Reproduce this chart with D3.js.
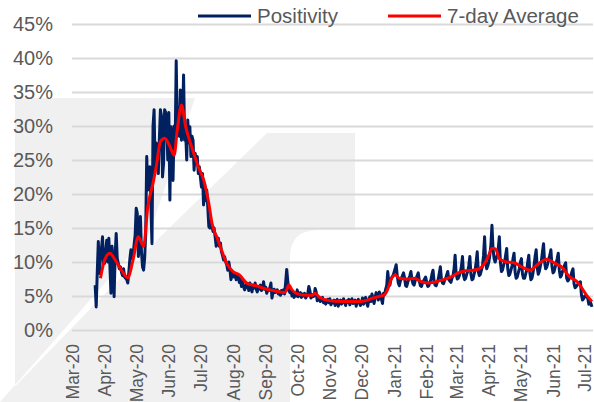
<!DOCTYPE html>
<html>
<head>
<meta charset="utf-8">
<script src="https://cdn.jsdelivr.net/npm/d3@7"></script>
<style>
  html, body { margin: 0; padding: 0; background: #fff; }
  svg { display: block; font-family: "Liberation Sans", Arial, sans-serif; }
</style>
</head>
<body>
<svg id="chart"></svg>
<script>
/* Données : taux de positivité quotidien (%) à partir du 23 mars 2020 */
const firstDay = '2020-03-23'

const positivity = [
  // mars 2020 (23-31)
  6.6, 3.4, 8.5, 13.0, 8.3, 10.5, 12.0, 13.7, 9.8,
  // avril 2020
  9.8, 11.5, 13.2, 10.0, 13.5, 9.5, 5.4, 12.3, 10.5, 4.9, 11.0, 14.2, 10.5, 9.8, 9.0,
  9.3, 8.5, 8.0, 9.0, 7.8, 7.6, 7.4, 6.9, 8.5, 10.5, 11.8, 10.5, 11.0, 12.5, 14.0,
  // mai 2020
  17.9, 17.2, 10.8, 12.0, 16.7, 11.5, 9.3, 8.8, 10.5, 14.0, 25.5, 20.6, 21.0, 24.0, 18.0,
  12.7, 30.0, 32.4, 23.5, 27.5, 26.5, 23.0, 28.0, 32.4, 31.5, 22.5, 24.5, 32.4, 32.0, 30.4, 25.0,
  // juin 2020
  32.0, 19.1, 29.9, 26.5, 22.0, 30.0, 27.0, 39.6, 30.0, 32.8, 28.5, 35.3, 27.9, 30.5, 37.5,
  27.9, 29.0, 25.0, 30.9, 27.5, 29.9, 25.5, 28.5, 27.9, 23.5, 26.0, 24.5, 25.5, 23.0, 24.0,
  // juillet 2020
  22.5, 21.0, 23.0, 18.4, 21.5, 19.0, 20.6, 18.1, 15.2, 15.0, 16.0, 15.2, 14.5, 15.0, 13.7,
  12.3, 13.2, 13.5, 12.3, 12.8, 11.5, 11.0, 10.3, 10.8, 10.0, 9.6, 8.8, 10.0, 9.0, 7.4, 8.0,
  // août 2020
  8.5, 7.8, 8.3, 7.4, 8.0, 7.8, 7.0, 7.6, 6.4, 7.2, 6.4, 5.9, 6.3, 6.9, 6.5,
  5.8, 6.9, 6.2, 5.6, 6.5, 6.2, 6.9, 6.0, 5.6, 6.4, 6.0, 6.6, 5.8, 6.1, 7.1, 6.0,
  // septembre 2020
  6.3, 5.4, 6.0, 5.8, 6.2, 6.9, 4.7, 5.6, 6.0, 5.5, 5.8, 5.9, 5.3, 5.6, 5.1,
  5.8, 5.4, 5.9, 5.3, 7.0, 8.9, 7.2, 5.8, 5.5, 5.9, 5.0, 5.6, 4.8, 5.4, 5.0,
  // octobre 2020
  5.9, 4.9, 5.2, 5.5, 4.8, 5.3, 5.0, 5.4, 4.7, 5.0, 5.3, 6.4, 5.8, 4.7, 5.2,
  4.9, 5.0, 6.1, 5.6, 4.3, 4.7, 4.5, 4.2, 4.5, 4.8, 4.0, 4.3, 3.8, 4.2, 4.5, 4.0,
  // novembre 2020
  4.6, 3.7, 4.2, 4.0, 4.4, 3.6, 4.3, 4.5, 3.5, 4.1, 4.4, 3.8, 4.2, 4.6, 4.0,
  3.6, 4.3, 4.1, 4.5, 3.7, 4.2, 4.6, 3.9, 4.0, 4.4, 3.5, 4.2, 4.5, 4.0, 3.6,
  // décembre 2020 (1-24)
  4.1, 4.7, 3.8, 4.3, 4.8, 4.0, 3.5, 4.4, 4.9, 4.2, 5.3, 4.6, 3.9, 4.8, 5.5,
  5.0, 4.4, 5.6, 5.2, 4.5, 3.9, 5.4, 5.2, 6.0,
  // semaines à partir du 25 décembre 2020
  6.5, 8.6, 7.0, 6.6, 7.4, 7.8, 8.0,
  8.5, 9.0, 9.6, 8.0, 6.9, 6.5, 7.2,
  7.6, 8.0, 8.4, 7.6, 6.5, 6.4, 7.0,
  7.5, 8.0, 8.6, 7.4, 6.8, 6.6, 7.2,
  7.6, 8.0, 8.4, 7.2, 6.5, 6.4, 6.9,
  7.2, 7.5, 7.8, 7.0, 6.4, 6.5, 7.0,
  7.4, 8.2, 8.8, 7.2, 6.6, 6.5, 7.0,
  7.5, 8.4, 9.3, 7.5, 6.9, 6.8, 7.3,
  7.6, 8.1, 8.6, 7.4, 7.2, 7.0, 7.6,
  8.0, 9.0, 11.0, 8.2, 7.5, 7.6, 8.0,
  8.5, 9.4, 10.8, 8.0, 7.4, 7.6, 8.2,
  8.6, 9.5, 10.8, 8.2, 7.4, 7.5, 8.2,
  8.8, 10.0, 11.5, 8.6, 8.0, 8.2, 8.8,
  9.4, 11.0, 13.7, 10.0, 9.0, 9.4, 10.0,
  11.0, 12.5, 15.4, 12.0, 10.5, 10.0, 10.5,
  11.0, 12.0, 13.7, 10.0, 8.6, 8.8, 9.5,
  10.0, 11.0, 12.0, 9.0, 8.0, 8.2, 8.8,
  9.4, 10.5, 11.3, 8.5, 7.6, 7.8, 8.4,
  9.0, 10.0, 10.5, 8.2, 7.6, 7.6, 8.2,
  8.8, 10.0, 11.0, 8.4, 7.4, 7.6, 8.4,
  9.5, 10.8, 11.8, 9.2, 8.2, 8.6, 9.4,
  10.2, 11.5, 12.7, 10.0, 9.0, 9.2, 9.8,
  10.5, 11.0, 11.8, 9.4, 8.4, 8.6, 9.2,
  9.8, 10.5, 11.3, 8.8, 7.8, 8.0, 8.6,
  9.0, 9.5, 9.9, 7.6, 7.2, 7.4, 7.8,
  8.0, 8.6, 9.0, 6.8, 6.2, 6.4, 6.6,
  6.8, 7.0, 7.1, 5.2, 4.4, 4.6, 5.0,
  5.0, 4.8, 4.7, 3.8, 4.2, 3.9, 3.4
]

/* Moyenne sur 7 jours */
const avgDates = [
  '2020-03-28', '2020-04-01', '2020-04-06', '2020-04-11', '2020-04-17', '2020-04-23', '2020-04-28',
  '2020-05-03', '2020-05-08', '2020-05-12', '2020-05-17', '2020-05-20', '2020-05-24', '2020-05-28',
  '2020-06-02', '2020-06-06', '2020-06-09', '2020-06-13', '2020-06-17', '2020-06-23', '2020-06-29',
  '2020-07-04', '2020-07-09', '2020-07-12', '2020-07-17', '2020-07-21', '2020-07-26',
  '2020-08-01', '2020-08-07', '2020-08-14', '2020-08-23',
  '2020-09-02', '2020-09-08', '2020-09-19', '2020-09-21', '2020-09-23', '2020-09-26', '2020-09-30',
  '2020-10-10', '2020-10-15', '2020-10-18', '2020-10-22',
  '2020-11-01', '2020-11-13', '2020-11-29',
  '2020-12-05', '2020-12-12', '2020-12-19', '2020-12-23', '2020-12-26', '2020-12-29',
  '2021-01-02', '2021-01-06', '2021-01-13', '2021-01-20', '2021-01-27',
  '2021-02-03', '2021-02-10', '2021-02-17', '2021-02-24',
  '2021-03-03', '2021-03-10', '2021-03-17', '2021-03-24', '2021-03-28',
  '2021-04-01', '2021-04-04', '2021-04-06', '2021-04-08', '2021-04-11', '2021-04-18', '2021-04-25',
  '2021-05-02', '2021-05-10', '2021-05-17', '2021-05-26',
  '2021-06-03', '2021-06-09', '2021-06-17', '2021-06-24',
  '2021-07-03', '2021-07-08'
]
const avgValues = [
  7.6, 10.3, 11.3, 10.3, 8.8, 7.7, 10.3,
  13.7, 12.3, 18.1, 21.6, 24.0, 27.7, 28.2,
  27.0, 25.7, 29.4, 33.1, 29.9, 26.8, 24.0,
  22.1, 18.6, 15.7, 13.5, 11.8, 9.8,
  8.6, 8.1, 6.9, 6.5,
  6.0, 5.8, 5.5, 5.9, 6.6, 5.9, 5.4,
  5.1, 5.1, 5.4, 4.8,
  4.3, 4.2, 4.2,
  4.3, 4.7, 5.0, 5.2, 6.0, 7.4,
  8.1, 7.6, 7.5, 7.6, 7.1,
  6.9, 7.1, 7.4, 7.8,
  8.4, 8.7, 8.8, 9.1, 9.8,
  11.0, 12.0, 12.0, 11.8, 10.5, 10.0, 9.9,
  9.3, 8.8, 9.6, 10.4,
  9.8, 9.3, 7.8, 7.1,
  5.1, 4.2
]

/* Libellés des axes */
const monthLabels = ['Mar-20', 'Apr-20', 'May-20', 'Jun-20', 'Jul-20', 'Aug-20', 'Sep-20', 'Oct-20',
  'Nov-20', 'Dec-20', 'Jan-21', 'Feb-21', 'Mar-21', 'Apr-21', 'May-21', 'Jun-21', 'Jul-21']
const yTicks = [0, 5, 10, 15, 20, 25, 30, 35, 40, 45]
const seriesNames = ['Positivity', '7-day Average']

const width = 594, height = 402
const plot = {left: 72, right: 593, top: 24, bottom: 330}
const navy = '#002060', red = '#ff0000', grey = '#595959'

const parseDay = d3.timeParse('%Y-%m-%d')
const parseMonth = d3.timeParse('%b-%y')

let svg = d3.select('#chart').attr('width', width).attr('height', height)

let xScale = d3.scaleTime()
  .domain([parseMonth('Mar-20'), parseDay('2021-07-09')])
  .range([plot.left, plot.right])

let yScale = d3.scaleLinear()
  .domain([0, 45])
  .range([plot.bottom, plot.top])

const dailyData = positivity.map((v, i) => ({date: d3.timeDay.offset(parseDay(firstDay), i), value: v}))
const avgData = avgDates.map((d, i) => ({date: parseDay(d), value: avgValues[i]}))

/* Filigrane gris clair en arrière-plan */
const drawWatermark = () => {
  let wm = svg.append('g').attr('fill', '#f1f0f1')
  wm.append('path').attr('d', 'M15,98 H195 L150,232 L0,402 H15 Z')
  wm.append('path').attr('d', 'M0,402 L160,237 L267,133 H355 V230 H318 Q290,230 290,258 V402 Z')
}

/* Axe des y et lignes de grille */
const drawYAxis = () => {
  let yAxis = d3.axisLeft(yScale)
    .tickValues(yTicks)
    .tickFormat(d => d + '%')
    .tickSize(-(plot.right - plot.left))
    .tickPadding(19)

  let g = svg.append('g')
    .attr('transform', 'translate(' + plot.left + ',0)')
    .call(yAxis)
  g.select('.domain').remove()
  g.selectAll('line').attr('stroke', '#d9d9d9').attr('stroke-width', 2)
  g.selectAll('text')
    .attr('fill', grey)
    .style('font-size', '20px')
    .style('font-family', '"Liberation Sans", Arial, sans-serif')
}

/* Axe des x : mois, libellés verticaux */
const drawXAxis = () => {
  let xAxis = d3.axisBottom(xScale)
    .tickValues(monthLabels.map(m => parseMonth(m)))
    .tickFormat((d, i) => monthLabels[i])
    .tickSize(0)

  let g = svg.append('g')
    .attr('transform', 'translate(0,' + plot.bottom + ')')
    .call(xAxis)
  g.select('.domain').remove()
  g.selectAll('text')
    .attr('transform', 'rotate(-90)')
    .attr('text-anchor', 'end')
    .attr('x', -14)
    .attr('y', 0)
    .attr('dy', '0.35em')
    .attr('fill', grey)
    .style('font-size', '17.5px')
    .style('font-family', '"Liberation Sans", Arial, sans-serif')
}

/* Courbes */
const drawLines = () => {
  let line = d3.line()
    .x(d => xScale(d.date))
    .y(d => yScale(d.value))

  svg.append('path')
    .datum(dailyData)
    .attr('fill', 'none')
    .attr('stroke', navy)
    .attr('stroke-width', 3)
    .attr('stroke-linejoin', 'round')
    .attr('d', line)

  svg.append('path')
    .datum(avgData)
    .attr('fill', 'none')
    .attr('stroke', red)
    .attr('stroke-width', 3)
    .attr('stroke-linejoin', 'round')
    .attr('d', line.curve(d3.curveMonotoneX))
}

/* Légende */
const drawLegend = () => {
  const items = [
    {name: seriesNames[0], color: navy, x: 198},
    {name: seriesNames[1], color: red, x: 388}
  ]
  let g = svg.append('g')
  items.forEach(item => {
    g.append('line')
      .attr('x1', item.x).attr('x2', item.x + 53)
      .attr('y1', 16).attr('y2', 16)
      .attr('stroke', item.color)
      .attr('stroke-width', 3)
    g.append('text')
      .attr('x', item.x + 59)
      .attr('y', 16)
      .attr('dy', '0.35em')
      .attr('fill', grey)
      .style('font-size', '20.5px')
      .text(item.name)
  })
}

drawWatermark()
drawYAxis()
drawXAxis()
drawLines()
drawLegend()
</script>
</body>
</html>
